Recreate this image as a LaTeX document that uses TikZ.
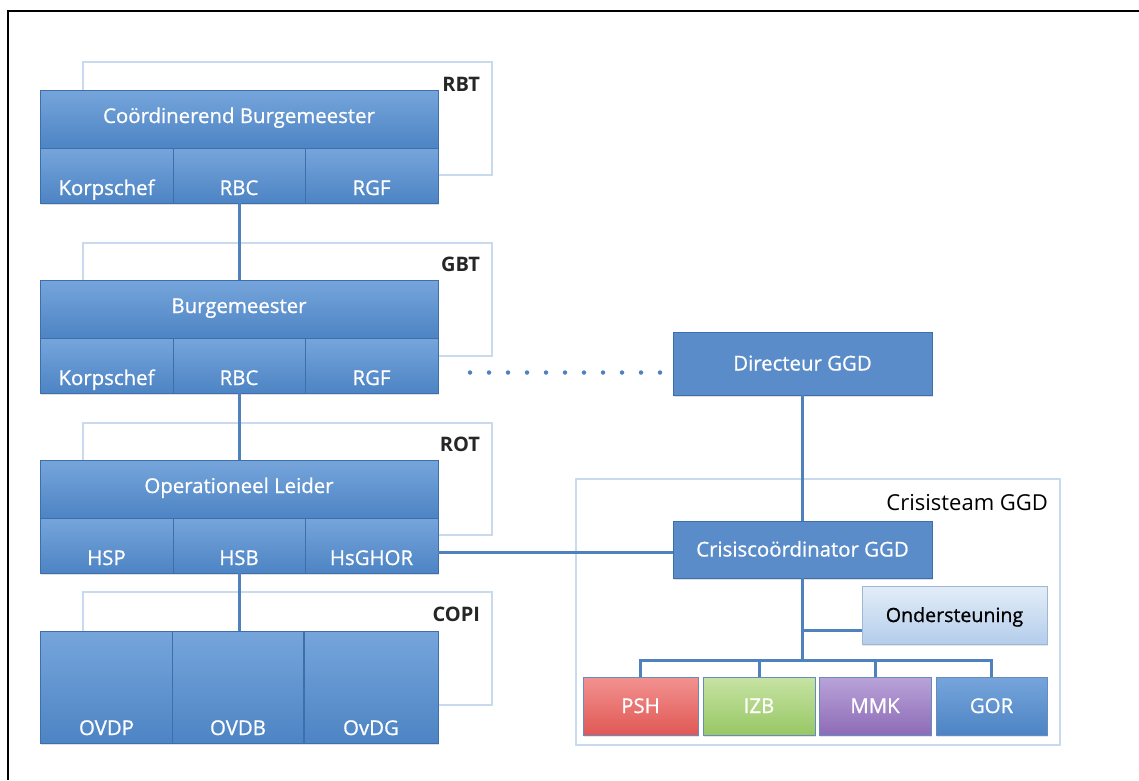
\documentclass[tikz,border=0pt]{standalone}
\usepackage{fontspec}
\setmainfont{Open Sans}
\newfontfamily\medfont[FakeBold=0.8]{Open Sans}
\usetikzlibrary{shadows}
\definecolor{bluetop}{HTML}{76A5DB}
\definecolor{bluebot}{HTML}{4D84C4}
\definecolor{blueedge}{HTML}{3E6FAC}
\definecolor{flatblue}{HTML}{5A8CC9}
\definecolor{framec}{HTML}{C9DAEF}
\definecolor{linec}{HTML}{4F81BD}
\definecolor{redtop}{HTML}{F29290}
\definecolor{redbot}{HTML}{E05855}
\definecolor{greentop}{HTML}{C6E3A3}
\definecolor{greenbot}{HTML}{98C765}
\definecolor{purptop}{HTML}{B9A3D9}
\definecolor{purpbot}{HTML}{8D6BB6}
\definecolor{ondtop}{HTML}{E3EDF8}
\definecolor{ondbot}{HTML}{B4CDEB}
\begin{document}
\begin{tikzpicture}[x=1pt,y=-1pt,
  every node/.style={inner sep=0pt, outer sep=0pt},
  cell/.style={draw=blueedge, line width=0.7pt, top color=bluetop, bottom color=bluebot,
    text=white, font=\medfont\fontsize{20.4}{24}\selectfont,
    drop shadow={opacity=0.25, shadow xshift=1pt, shadow yshift=-2pt}},
  mainrow/.style={cell, minimum width=398pt, minimum height=58pt, text height=8pt, text depth=0pt},
  subrow/.style={cell, minimum width=#1, minimum height=55pt, text height=39pt, text depth=0pt},
  copicell/.style={cell, minimum width=#1, minimum height=112pt, text height=96pt, text depth=0pt},
  flatbox/.style={draw=blueedge, line width=0.7pt, fill=flatblue, text=white,
    font=\medfont\fontsize{20.4}{24}\selectfont, minimum width=259pt, minimum height=#1,
    text height=14pt, text depth=0pt,
    drop shadow={opacity=0.25, shadow xshift=1pt, shadow yshift=-2pt}},
  teambox/.style={draw=blueedge!80, line width=0.6pt, text=white,
    font=\medfont\fontsize{20.4}{24}\selectfont, minimum width=#1, minimum height=58pt,
    text height=14pt, text depth=0pt,
    drop shadow={opacity=0.2, shadow xshift=1pt, shadow yshift=-2pt}},
  frame/.style={draw=framec, line width=1.6pt},
  tag/.style={anchor=base east, font=\fontsize{20}{24}\selectfont\bfseries, text=black!85},
  conn/.style={draw=linec, line width=3pt},
  dotconn/.style={draw=linec, line width=4.5pt, line cap=round, dash pattern=on 0pt off 19pt}
]
\useasboundingbox (0,0) rectangle (1139,780);
% outer border (top and left only)
\draw[line width=2pt, black] (1139,11) -- (8,11) -- (8,780);

% frames
\node[frame, minimum width=409pt, minimum height=113pt] (fRBT) at (287.5,118.5) {};
\node[frame, minimum width=409pt, minimum height=113pt] (fGBT) at (287.5,299.5) {};
\node[frame, minimum width=409pt, minimum height=112pt] (fROT) at (287.5,479) {};
\node[frame, minimum width=409pt, minimum height=113pt] (fCOPI) at (287.5,648.5) {};
\node[frame, minimum width=484pt, minimum height=266pt] (fCT) at (818,612) {};

\node[tag] (tRBT) at (480,91) {RBT};
\node[tag] (tGBT) at (480,271) {GBT};
\node[tag] (tROT) at (480,451) {ROT};
\node[tag] (tCOPI) at (480,621) {COPI};
\node[anchor=base east, font=\fontsize{22}{26}\selectfont, text=black] (tCT) at (1048,510) {Crisisteam GGD};

% RBT
\node[mainrow] (rbtM) at (239,119) {Coördinerend Burgemeester};
\node[subrow=133pt] (rbtK) at (106.5,175.5) {Korpschef};
\node[subrow=132pt] (rbtR) at (239,175.5) {RBC};
\node[subrow=133pt] (rbtG) at (371.5,175.5) {RGF};
% GBT
\node[mainrow] (gbtM) at (239,309) {Burgemeester};
\node[subrow=133pt] (gbtK) at (106.5,365.5) {Korpschef};
\node[subrow=132pt] (gbtR) at (239,365.5) {RBC};
\node[subrow=133pt] (gbtG) at (371.5,365.5) {RGF};
% ROT
\node[mainrow] (rotM) at (239,489) {Operationeel Leider};
\node[subrow=133pt] (rotP) at (106.5,545.5) {HSP};
\node[subrow=132pt] (rotB) at (239,545.5) {HSB};
\node[subrow=133pt] (rotG) at (371.5,545.5) {HsGHOR};
% COPI
\node[copicell=133pt] (cP) at (106.5,687) {OVDP};
\node[copicell=131pt] (cB) at (238,687) {OVDB};
\node[copicell=134pt] (cG) at (371,687) {OvDG};

% right side
\node[flatbox=63pt] (dir) at (802.5,363.5) {Directeur GGD};
\node[flatbox=57pt] (cc) at (802.5,549.5) {Crisiscoördinator GGD};
\node[draw=blueedge!50, line width=0.6pt, top color=ondtop, bottom color=ondbot,
  text=black, font=\medfont\fontsize{19.6}{24}\selectfont, minimum width=185pt, minimum height=58pt,
  text height=14pt, text depth=0pt,
  drop shadow={opacity=0.2, shadow xshift=1pt, shadow yshift=-2pt}] (ond) at (954.5,615) {Ondersteuning};
\node[teambox=115pt, top color=redtop, bottom color=redbot] (psh) at (640.5,706) {PSH};
\node[teambox=112pt, top color=greentop, bottom color=greenbot] (izb) at (759,706) {IZB};
\node[teambox=112pt, top color=purptop, bottom color=purpbot] (mmk) at (875,706) {MMK};
\node[teambox=111pt, top color=bluetop, bottom color=bluebot] (gor) at (991.5,706) {GOR};

% connectors
\draw[conn] (rbtR.south) -- (gbtM.north);
\draw[conn] (gbtR.south) -- (rotM.north);
\draw[conn] (rotB.south) -- (cB.north -| rotB.south);
\draw[conn] (dir.south) -- (cc.north);
\path (rotG.east) ++(0,7) coordinate (hsL);
\draw[conn] (hsL) -- (hsL -| cc.west);
\path (gbtG.east) ++(32,7) coordinate (dotL);
\draw[dotconn] (dotL) -- (dotL -| dir.west);
\coordinate (bus) at (802.5,660);
\coordinate (ondJ) at (802.5,630);
\draw[conn] (cc.south) -- (bus);
\draw[conn] (ondJ) -- (ondJ -| ond.west);
\draw[conn] (psh.north) -- (psh.north |- bus) -- (gor.north |- bus) -- (gor.north);
\draw[conn] (izb.north) -- (izb.north |- bus);
\draw[conn] (mmk.north) -- (mmk.north |- bus);
\end{tikzpicture}
\end{document}
